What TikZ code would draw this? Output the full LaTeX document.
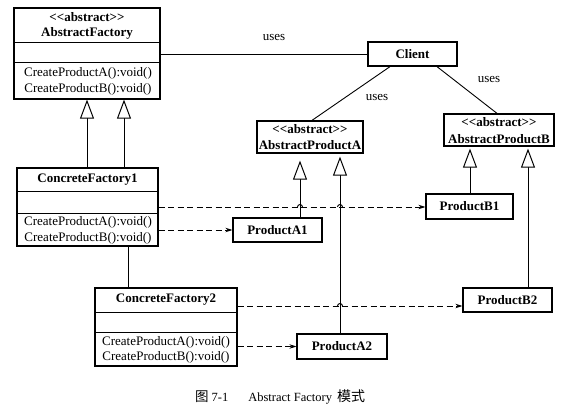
\documentclass[tikz,border=0pt]{standalone}
\usepackage{fontspec}
\setmainfont{Liberation Serif}
\newfontfamily\cjk{Noto Sans CJK SC}
\usetikzlibrary{arrows.meta,calc}
\begin{document}
\begin{tikzpicture}[x=1pt,y=-1pt,
  box/.style={draw,line width=1.25pt,inner sep=0pt},
  bt/.style={font=\fontsize{13}{15}\selectfont\bfseries,inner sep=0pt},
  mt/.style={font=\fontsize{13}{15}\selectfont,inner sep=0pt},
  lbl/.style={font=\fontsize{13}{15}\selectfont,inner sep=0pt},
  divl/.style={line width=1.1pt},
  inh/.style={line width=1pt,-{Triangle[length=19pt,width=14pt,fill=white]}},
  dep/.style={line width=0.9pt,dash pattern=on 6pt off 3.5pt,-{Stealth[length=7pt,width=4.5pt]}},
  assoc/.style={line width=0.9pt},
  hop/.style={line width=0.9pt}]
\useasboundingbox (0,0) rectangle (582,409);

% ---- AbstractFactory
\node[box,minimum width=146pt,minimum height=91pt] (af) at (87,53.5) {};
\draw[divl] ($(af.north west)+(0,35)$) -- ($(af.north east)+(0,35)$);
\draw[divl] ($(af.north west)+(0,55)$) -- ($(af.north east)+(0,55)$);
\node[bt] (afs) at (87,17) {<{}<abstract>{}>};
\node[bt] (afn) at (87,33) {AbstractFactory};
\node[mt] (afm1) at (88,73) {CreateProductA():void()};
\node[mt] (afm2) at (88,89) {CreateProductB():void()};

% ---- ConcreteFactory1
\node[box,minimum width=141pt,minimum height=78pt] (cf1) at (87.5,207) {};
\draw[divl] ($(cf1.north west)+(0,24)$) -- ($(cf1.north east)+(0,24)$);
\draw[divl] ($(cf1.north west)+(0,46)$) -- ($(cf1.north east)+(0,46)$);
\node[bt] (cf1n) at (87.5,180) {ConcreteFactory1};
\node[mt] (cf1m1) at (88,222) {CreateProductA():void()};
\node[mt] (cf1m2) at (88,238) {CreateProductB():void()};

% ---- ConcreteFactory2
\node[box,minimum width=142pt,minimum height=78pt] (cf2) at (166,327) {};
\draw[divl] ($(cf2.north west)+(0,25)$) -- ($(cf2.north east)+(0,25)$);
\draw[divl] ($(cf2.north west)+(0,45)$) -- ($(cf2.north east)+(0,45)$);
\node[bt] (cf2n) at (166,300) {ConcreteFactory2};
\node[mt] (cf2m1) at (166,342) {CreateProductA():void()};
\node[mt] (cf2m2) at (166,357) {CreateProductB():void()};

% ---- Client
\node[box,minimum width=89pt,minimum height=24pt,font=\fontsize{13}{15}\selectfont\bfseries] (client) at (412.5,54) {Client};

% ---- AbstractProductA / B
\node[box,minimum width=106pt,minimum height=32pt] (apa) at (310,137) {};
\node[bt] (apas) at (310,129) {<{}<abstract>{}>};
\node[bt] (apan) at (310,145) {AbstractProductA};
\node[box,minimum width=110pt,minimum height=32pt] (apb) at (499,130) {};
\node[bt] (apbs) at (499,122) {<{}<abstract>{}>};
\node[bt] (apbn) at (499,139) {AbstractProductB};

% ---- Products
\node[box,minimum width=89pt,minimum height=24pt,font=\fontsize{13}{15}\selectfont\bfseries] (pa1) at (277.5,230) {ProductA1};
\node[box,minimum width=90pt,minimum height=25pt,font=\fontsize{13}{15}\selectfont\bfseries] (pa2) at (342,346.5) {ProductA2};
\node[box,minimum width=87pt,minimum height=25pt,font=\fontsize{13}{15}\selectfont\bfseries] (pb1) at (469.5,206.5) {ProductB1};
\node[box,minimum width=89pt,minimum height=24pt,font=\fontsize{13}{15}\selectfont\bfseries] (pb2) at (507.5,300) {ProductB2};

% ---- x positions of vertical connectors
\coordinate (xf1) at (87,0);
\coordinate (xf2) at (124,0);
\coordinate (xa1) at (300,0);
\coordinate (xa2) at (340,0);
\coordinate (xb1) at (470,0);
\coordinate (xb2) at (528,0);
\coordinate (xc) at (128,0);

% ---- associations
\draw[assoc] (af.east |- client.west) -- (client.west);
\node[lbl] (u1) at (274,38) {uses};
\draw[assoc] ([xshift=-22.5pt]client.south) -- ([xshift=2pt]apa.north);
\node[lbl] (u2) at (377,98) {uses};
\draw[assoc] ([xshift=24.5pt]client.south) -- ([xshift=-2pt]apb.north);
\node[lbl] (u3) at (489,80) {uses};
\draw[assoc] (cf1.south -| xc) -- (cf2.north -| xc);

% ---- inheritance
\draw[inh] (cf1.north -| xf1) -- (af.south -| xf1);
\draw[inh] (cf1.north -| xf2) -- (af.south -| xf2);
\draw[inh,shorten >=7pt] (pa1.north -| xa1) -- (apa.south -| xa1);
\draw[inh,shorten >=3pt] (pa2.north -| xa2) -- (apa.south -| xa2);
\draw[inh,shorten >=2pt] (pb1.north -| xb1) -- (apb.south -| xb1);
\draw[inh,shorten >=2pt] (pb2.north -| xb2) -- (apb.south -| xb2);

% ---- dependencies
\draw[dep] (cf1.east) -- (cf1.east -| pb1.west);
\draw[dep] (pa1.west -| cf1.east) -- (pa1.west);
\coordinate (pb2in) at ($(pb2.west)+(0,6)$);
\draw[dep] (pb2in -| cf2.east) -- (pb2in);
\draw[dep] (pa2.west -| cf2.east) -- (pa2.west);

% ---- hops
\coordinate (hop1) at (xa1 |- cf1.east);
\coordinate (hop2) at (xa2 |- cf1.east);
\coordinate (hop3) at (xa2 |- pb2in);
\draw[hop] ([xshift=-2.5pt]hop1) arc[start angle=180,end angle=0,radius=2.5pt];
\draw[hop] ([xshift=-2.5pt]hop2) arc[start angle=180,end angle=0,radius=2.5pt];
\draw[hop] ([xshift=-2.5pt]hop3) arc[start angle=180,end angle=0,radius=2.5pt];

% ---- caption
\node[anchor=west,inner sep=0pt,font=\fontsize{12.5}{15}\selectfont] (cap) at (195,397)
  {{\cjk\fontsize{13.5}{15}\selectfont 图}\hspace{3pt}7-1\hspace{20pt}Abstract Factory\hspace{5pt}{\cjk\fontsize{14}{15}\selectfont 模式}};
\end{tikzpicture}
\end{document}
